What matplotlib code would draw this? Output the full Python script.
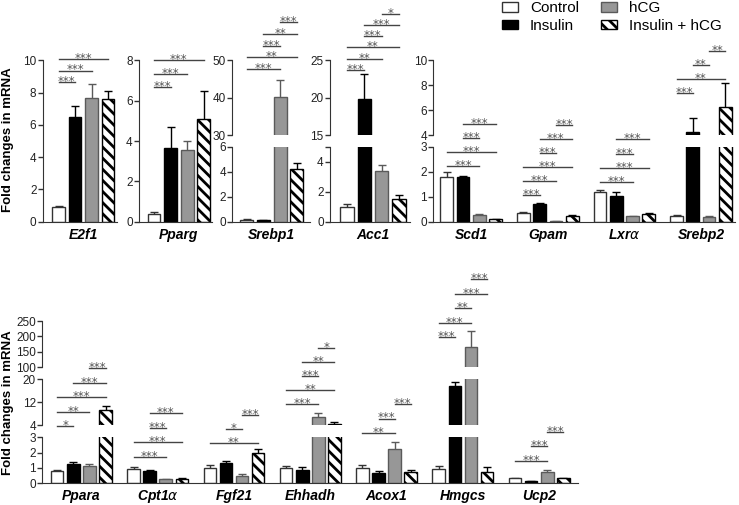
import matplotlib
matplotlib.use("Agg")
import matplotlib.pyplot as plt
from matplotlib.patches import Patch
from matplotlib import transforms
import numpy as np

plt.rcParams['font.family'] = ['Liberation Sans', 'DejaVu Sans']
plt.rcParams['hatch.linewidth'] = 2.0

W, H = 739, 505

treatments = ['Control', 'Insulin', 'hCG', 'Insulin + hCG']

# ---- data: bar height and top of error bar (Control, Insulin, hCG, Insulin + hCG)
e2f1_mean = [0.9, 6.5, 7.65, 7.6]
e2f1_top = [0.95, 7.15, 8.55, 8.1]
pparg_mean = [0.38, 3.65, 3.55, 5.1]
pparg_top = [0.48, 4.7, 4.0, 6.5]
srebp1_mean = [0.15, 0.1, 40.3, 4.2]
srebp1_top = [0.2, 0.13, 44.8, 4.7]
acc1_mean = [1.0, 19.8, 3.4, 1.5]
acc1_top = [1.15, 23.1, 3.8, 1.75]
scd1_mean = [1.8, 1.78, 0.27, 0.1]
scd1_top = [2.0, 1.83, 0.3, 0.12]
gpam_mean = [0.37, 0.72, 0.03, 0.23]
gpam_top = [0.4, 0.75, 0.04, 0.26]
lxra_mean = [1.18, 1.03, 0.22, 0.32]
lxra_top = [1.28, 1.2, 0.25, 0.34]
srebp2_mean = [0.23, 4.25, 0.2, 6.25]
srebp2_top = [0.26, 5.4, 0.23, 8.2]

ppara_mean = [0.8, 1.24, 1.15, 9.3]
ppara_top = [0.87, 1.37, 1.24, 10.7]
cpt1a_mean = [0.93, 0.82, 0.26, 0.26]
cpt1a_top = [1.04, 0.86, 0.28, 0.33]
fgf21_mean = [0.98, 1.3, 0.48, 1.96]
fgf21_top = [1.2, 1.47, 0.58, 2.24]
ehhadh_mean = [1.02, 0.87, 7.0, 4.4]
ehhadh_top = [1.15, 1.04, 8.2, 5.0]
acox1_mean = [1.02, 0.69, 2.24, 0.76]
acox1_top = [1.19, 0.82, 2.72, 0.87]
hmgcs_mean = [0.93, 17.7, 167, 0.72]
hmgcs_top = [1.15, 19.0, 219, 1.04]
ucp2_mean = [0.32, 0.15, 0.76, 0.32]
ucp2_top = [0.34, 0.17, 0.86, 0.35]

# significance: (group a, group b, stars)
e2f1_sig = [(0, 1, '***'), (0, 2, '***'), (0, 3, '***')]
pparg_sig = [(0, 1, '***'), (0, 2, '***'), (0, 3, '***')]
srebp1_sig = [(0, 2, '***'), (0, 3, '**'), (1, 2, '***'), (1, 3, '**'), (2, 3, '***')]
acc1_sig = [(0, 1, '***'), (0, 2, '**'), (0, 3, '**'), (1, 2, '***'), (1, 3, '***'), (2, 3, '*')]
scd1_sig = [(0, 2, '***'), (0, 3, '***'), (1, 2, '***'), (1, 3, '***')]
gpam_sig = [(0, 1, '***'), (0, 2, '***'), (0, 3, '***'), (1, 2, '***'), (1, 3, '***'), (2, 3, '***')]
lxra_sig = [(0, 2, '***'), (0, 3, '***'), (1, 2, '***'), (1, 3, '***')]
srebp2_sig = [(0, 1, '***'), (0, 3, '**'), (1, 2, '**'), (2, 3, '**')]
ppara_sig = [(0, 1, '*'), (0, 2, '**'), (0, 3, '***'), (1, 3, '***'), (2, 3, '***')]
cpt1a_sig = [(0, 2, '***'), (0, 3, '***'), (1, 2, '***'), (1, 3, '***')]
fgf21_sig = [(0, 3, '**'), (1, 2, '*'), (2, 3, '***')]
ehhadh_sig = [(0, 2, '***'), (0, 3, '**'), (1, 2, '***'), (1, 3, '**'), (2, 3, '*')]
acox1_sig = [(0, 2, '**'), (1, 2, '***'), (2, 3, '***')]
hmgcs_sig = [(0, 1, '***'), (0, 2, '***'), (1, 2, '**'), (1, 3, '***'), (2, 3, '***')]
ucp2_sig = [(0, 2, '***'), (1, 2, '***'), (2, 3, '***')]

# styles
face = ['white', 'black', '#979797', 'white']
edge = ['#333333', 'black', '#5a5a5a', 'black']
hatches = [None, None, None, '\\\\\\']
errc = ['#333333', 'black', '#5a5a5a', 'black']

fig = plt.figure(figsize=(W / 100, H / 100), dpi=100)


def px_axes(left, top, width, height):
    return fig.add_axes([left / W, 1 - (top + height) / H, width / W, height / H])


def draw_panel(left, pad_l, pad_r, u, gap, genes, segs):
    # genes: (label, mean, top, sig, bracket base px, bracket step px)
    n = len(genes)
    x0 = -pad_l / u
    x1 = (n - 1) * gap + 3 + pad_r / u
    width = (x1 - x0) * u
    cw = 4.0 / u
    axes = []
    for si, (lo, hi, top_px, bot_px, ticks, labels) in enumerate(segs):
        ax = px_axes(left, top_px, width, bot_px - top_px)
        ax.set_xlim(x0, x1)
        ax.set_ylim(lo, hi)
        for g, (name, mean, top, sig, b0, bs) in enumerate(genes):
            xs = g * gap + np.arange(4)
            for k in range(4):
                ax.bar(xs[k], mean[k], width=0.78, color=face[k], edgecolor=edge[k],
                       hatch=hatches[k], linewidth=1, zorder=2)
                ax.vlines(xs[k], mean[k], top[k], color=errc[k], lw=1, zorder=1)
                ax.hlines(top[k], xs[k] - cw, xs[k] + cw, color=errc[k], lw=1, zorder=1)
        ax.set_xticks([])
        ax.set_yticks(ticks)
        ax.set_yticklabels(labels)
        ax.tick_params(axis='y', length=3.5, width=1, pad=1, labelsize=8.5,
                       colors='#333333', labelcolor='#222222')
        for s in ['top', 'right']:
            ax.spines[s].set_visible(False)
        ax.spines['left'].set_color('#333333')
        if si < len(segs) - 1:
            ax.spines['bottom'].set_visible(False)
        else:
            ax.spines['bottom'].set_color('#333333')
        ax.patch.set_alpha(0)
        axes.append(ax)

    ax = axes[-1]
    trans = transforms.blended_transform_factory(ax.transData, fig.transFigure)
    for g, (name, mean, top, sig, b0, bs) in enumerate(genes):
        xs = g * gap + np.arange(4)
        ax.annotate(name, xy=(xs.mean(), 0), xycoords=('data', 'axes fraction'),
                    xytext=(0, -9.5), textcoords='offset points', ha='center', va='center',
                    fontsize=10, fontweight='bold', fontstyle='italic')
        for lvl, (a, b, stars) in enumerate(sig):
            ypix = b0 - lvl * bs
            yf = 1 - ypix / H
            ax.plot([xs[a], xs[b]], [yf, yf], transform=trans, color='#444444',
                    lw=1, clip_on=False)
            ax.text((xs[a] + xs[b]) / 2, 1 - (ypix + 3) / H, stars, transform=trans,
                    ha='center', va='baseline', fontsize=8.5, color='#555555',
                    family='DejaVu Sans')
    return axes


def nums(t):
    return [str(v) for v in t]


# ---- top row
draw_panel(42.7, 16, 9, 16.4, 4.7,
           [('E2f1', e2f1_mean, e2f1_top, e2f1_sig, 82, 11.5)],
           [(0, 10, 60.3, 221.7, [0, 2, 4, 6, 8, 10], nums([0, 2, 4, 6, 8, 10]))])
draw_panel(139, 15, 8, 16.6, 4.7,
           [('Pparg', pparg_mean, pparg_top, pparg_sig, 87.3, 13.7)],
           [(0, 8, 60.3, 221.7, [0, 2, 4, 6, 8], nums([0, 2, 4, 6, 8]))])
draw_panel(232.3, 14.4, 13, 16.7, 4.7,
           [('Srebp1', srebp1_mean, srebp1_top, srebp1_sig, 69.3, 11.9)],
           [(30, 50, 60.3, 135, [30, 40, 50], nums([30, 40, 50])),
            (0, 6, 146.7, 221.7, [0, 2, 4, 6], nums([0, 2, 4, 6]))])
draw_panel(330, 17, 11, 17.3, 4.7,
           [('Acc1', acc1_mean, acc1_top, acc1_sig, 70, 11.3)],
           [(15, 25, 60.3, 135, [15, 20, 25], nums([15, 20, 25])),
            (0, 5, 146.7, 221.7, [0, 2, 4, 5], ['0', '2', '4', ''])])
draw_panel(433.3, 13.4, 9.3, 16.3, 4.7,
           [('Scd1', scd1_mean, scd1_top, scd1_sig, 165.7, 13.9),
            ('Gpam', gpam_mean, gpam_top, gpam_sig, 195, 14),
            (r'Lxr$\alpha$', lxra_mean, lxra_top, lxra_sig, 181.7, 14.1),
            ('Srebp2', srebp2_mean, srebp2_top, srebp2_sig, 93.3, 14.2)],
           [(4, 10, 60.3, 135, [4, 6, 8, 10], nums([4, 6, 8, 10])),
            (0, 3, 146.7, 222, [0, 1, 2, 3], nums([0, 1, 2, 3]))])

# ---- bottom row
draw_panel(42.3, 14.9, 14.4, 16.1, 4.74,
           [('Ppara', ppara_mean, ppara_top, ppara_sig, 426, 14.4),
            (r'Cpt1$\alpha$', cpt1a_mean, cpt1a_top, cpt1a_sig, 456.7, 14.5),
            ('Fgf21', fgf21_mean, fgf21_top, fgf21_sig, 443.3, 14.2),
            ('Ehhadh', ehhadh_mean, ehhadh_top, ehhadh_sig, 404, 13.9),
            ('Acox1', acox1_mean, acox1_top, acox1_sig, 432.7, 14.2),
            ('Hmgcs', hmgcs_mean, hmgcs_top, hmgcs_sig, 337.3, 14.5),
            ('Ucp2', ucp2_mean, ucp2_top, ucp2_sig, 460.7, 14.5)],
           [(100, 250, 321, 367.3, [100, 150, 200, 250], nums([100, 150, 200, 250])),
            (4, 20, 379.3, 425.3, [4, 12, 20], nums([4, 12, 20])),
            (0, 3, 437.3, 483.3, [0, 1, 2, 3], nums([0, 1, 2, 3]))])

fig.text(8.5 / W, 1 - 140 / H, 'Fold changes in mRNA', rotation=90, ha='center',
         va='center', fontsize=9.5, fontweight='bold')
fig.text(8.5 / W, 1 - 403 / H, 'Fold changes in mRNA', rotation=90, ha='center',
         va='center', fontsize=9.5, fontweight='bold')

handles = [Patch(facecolor=face[k], edgecolor=edge[k], hatch=hatches[k], linewidth=1)
           for k in range(4)]
fig.legend(handles, treatments, ncol=2, loc='upper left',
           bbox_to_anchor=(501.7 / W, 1 - 1.5 / H), frameon=False, fontsize=11,
           borderpad=0, borderaxespad=0, handlelength=1.05, handleheight=0.55,
           handletextpad=0.8, columnspacing=1.45, labelspacing=0.2)

fig.savefig('out.png', dpi=100)
